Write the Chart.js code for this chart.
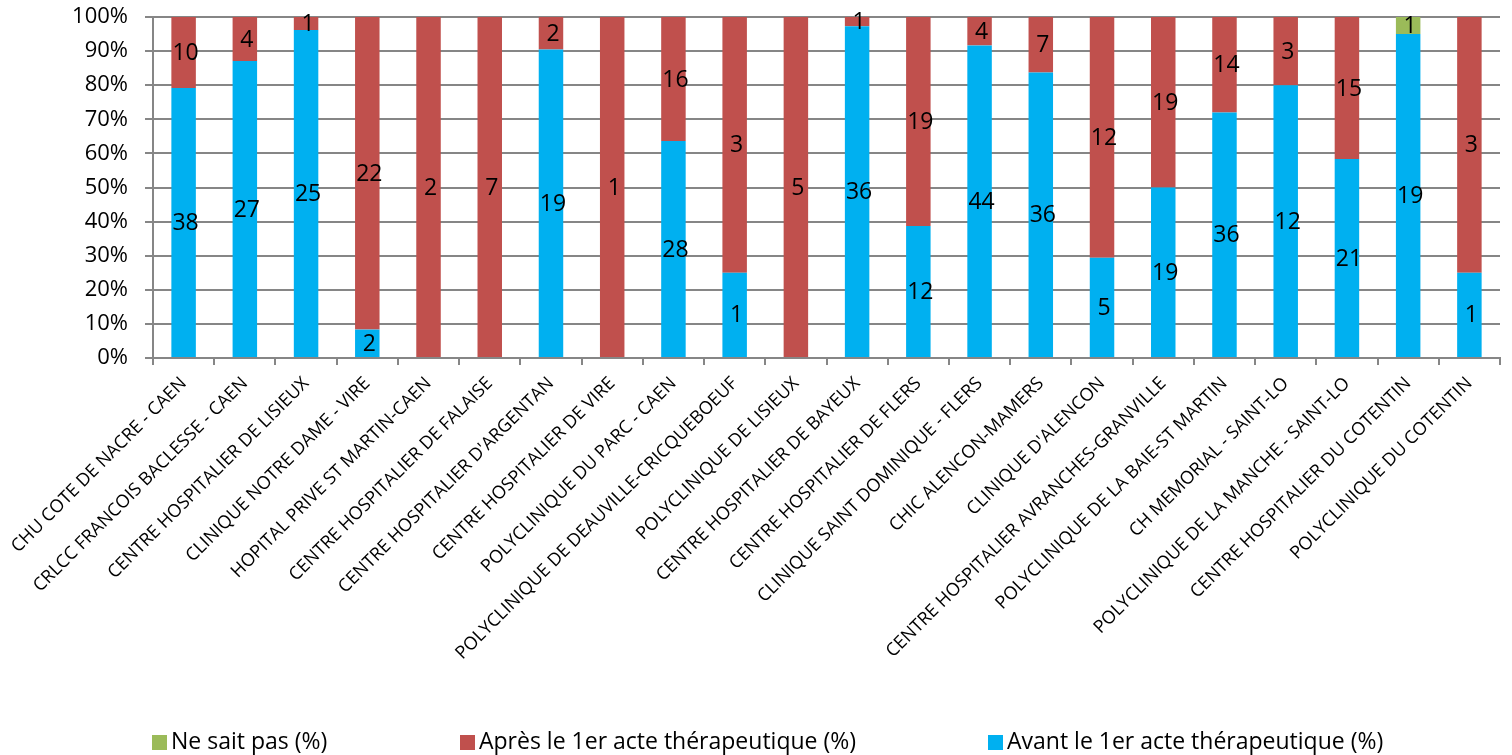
<!DOCTYPE html>
<html>
<head>
<meta charset="utf-8">
<script src="https://cdn.jsdelivr.net/npm/chart.js@4"></script>
<style>
  html, body { margin: 0; padding: 0; background: #fff; }
  #wrap { position: relative; width: 1512px; height: 755px; }
  #legende { position: absolute; left: 0; top: 725px; width: 1512px; height: 30px;
             font-family: 'Open Sans', 'Noto Sans', sans-serif; font-size: 23px; color: #000; }
  #legende .item { position: absolute; top: 0; white-space: nowrap; line-height: 30px; }
  #legende .carre { display: inline-block; width: 15px; height: 15px; margin-right: 4px; vertical-align: -1px; }
</style>
</head>
<body>
<div id="wrap">
  <canvas id="chart" width="1512" height="755"></canvas>
  <div id="legende"></div>
</div>
<script>
const etablissements = [
    'CHU COTE DE NACRE - CAEN',
    'CRLCC FRANCOIS BACLESSE - CAEN',
    'CENTRE HOSPITALIER DE LISIEUX',
    'CLINIQUE NOTRE DAME - VIRE',
    'HOPITAL PRIVE ST MARTIN-CAEN',
    'CENTRE HOSPITALIER DE FALAISE',
    "CENTRE HOSPITALIER D'ARGENTAN",
    'CENTRE HOSPITALIER DE VIRE',
    'POLYCLINIQUE DU PARC - CAEN',
    'POLYCLINIQUE DE DEAUVILLE-CRICQUEBOEUF',
    'POLYCLINIQUE DE LISIEUX',
    'CENTRE HOSPITALIER DE BAYEUX',
    'CENTRE HOSPITALIER DE FLERS',
    'CLINIQUE SAINT DOMINIQUE - FLERS',
    'CHIC ALENCON-MAMERS',
    "CLINIQUE D'ALENCON",
    'CENTRE HOSPITALIER AVRANCHES-GRANVILLE',
    'POLYCLINIQUE DE LA BAIE-ST MARTIN',
    'CH MEMORIAL - SAINT-LO',
    'POLYCLINIQUE DE LA MANCHE - SAINT-LO',
    'CENTRE HOSPITALIER DU COTENTIN',
    'POLYCLINIQUE DU COTENTIN'
];

// effectifs (les barres sont en % du total de chaque établissement)
const avant = [38, 27, 25, 2, 0, 0, 19, 0, 28, 1, 0, 36, 12, 44, 36, 5, 19, 36, 12, 21, 19, 1];
const apres = [10, 4, 1, 22, 2, 7, 2, 1, 16, 3, 5, 1, 19, 4, 7, 12, 19, 14, 3, 15, 0, 3];
const neSaitPas = [0, 0, 0, 0, 0, 0, 0, 0, 0, 0, 0, 0, 0, 0, 0, 0, 0, 0, 0, 0, 1, 0];

const yTicks = [0, 10, 20, 30, 40, 50, 60, 70, 80, 90, 100];

const totaux = avant.map((v, i) => v + apres[i] + neSaitPas[i]);
const pct = arr => arr.map((v, i) => totaux[i] ? v / totaux[i] * 100 : 0);

const FONT = "'Open Sans', 'Noto Sans', sans-serif";

// étiquettes de données au centre de chaque segment
const etiquettesPlugin = {
    id: 'etiquettes',
    afterDatasetsDraw(chart) {
        const ctx = chart.ctx;
        ctx.save();
        ctx.fillStyle = '#000';
        ctx.font = '23px ' + FONT;
        ctx.textAlign = 'center';
        ctx.textBaseline = 'middle';
        chart.data.datasets.forEach((ds, di) => {
            const meta = chart.getDatasetMeta(di);
            meta.data.forEach((bar, i) => {
                const n = ds.effectifs[i];
                if (!n) return;
                const p = bar.getProps(['x', 'y', 'base'], true);
                ctx.fillText(String(n), p.x + 2, (p.y + p.base) / 2 + 1);
            });
        });
        ctx.restore();
    }
};

// légende en bas, à la manière d'Excel (ordre inversé, largement espacée)
const legendePlugin = {
    id: 'legendeHtml',
    afterRender(chart) {
        const el = document.getElementById('legende');
        if (el.childElementCount) return;
        const pos = [152, 460, 988];
        chart.data.datasets.slice().reverse().forEach((ds, k) => {
            const item = document.createElement('span');
            item.className = 'item';
            item.style.left = pos[k] + 'px';
            const carre = document.createElement('span');
            carre.className = 'carre';
            carre.style.background = ds.backgroundColor;
            item.appendChild(carre);
            item.appendChild(document.createTextNode(ds.label));
            el.appendChild(item);
        });
    }
};

const ctx = document.getElementById('chart').getContext('2d');
new Chart(ctx, {
    type: 'bar',
    data: {
        labels: etablissements,
        datasets: [
            {
                label: 'Avant le 1er acte thérapeutique (%)',
                data: pct(avant),
                effectifs: avant,
                backgroundColor: '#00B0F0'
            },
            {
                label: 'Après le 1er acte thérapeutique (%)',
                data: pct(apres),
                effectifs: apres,
                backgroundColor: '#C0504D'
            },
            {
                label: 'Ne sait pas (%)',
                data: pct(neSaitPas),
                effectifs: neSaitPas,
                backgroundColor: '#9BBB59'
            }
        ]
    },
    options: {
        responsive: false,
        animation: false,
        layout: { padding: { left: 0, right: 12, top: 17, bottom: 0 } },
        datasets: {
            bar: { barPercentage: 1, categoryPercentage: 0.4 }
        },
        scales: {
            x: {
                stacked: true,
                grid: {
                    display: true,
                    drawOnChartArea: false,
                    offset: true,
                    tickLength: 7,
                    color: '#868686',
                    lineWidth: 2
                },
                border: { color: '#868686', width: 2 },
                ticks: {
                    autoSkip: false,
                    maxRotation: 45,
                    minRotation: 45,
                    padding: 8,
                    color: '#000',
                    font: { family: FONT, size: 18 }
                },
                afterFit(scale) { scale.height = 397; }
            },
            y: {
                stacked: true,
                min: 0,
                max: 100,
                afterBuildTicks(scale) { scale.ticks = yTicks.map(v => ({ value: v })); },
                grid: { color: '#868686', lineWidth: 2, tickLength: 8 },
                border: { color: '#868686', width: 2 },
                ticks: {
                    autoSkip: false,
                    color: '#000',
                    padding: 17,
                    font: { family: FONT, size: 22 },
                    callback: v => v + '%'
                },
                afterFit(scale) {
                    scale.width = 153;
                    scale.paddingTop = 0;
                    scale.paddingBottom = 0;
                }
            }
        },
        plugins: {
            legend: { display: false },
            tooltip: { enabled: false },
            title: { display: false }
        }
    },
    plugins: [etiquettesPlugin, legendePlugin]
});
</script>
</body>
</html>
